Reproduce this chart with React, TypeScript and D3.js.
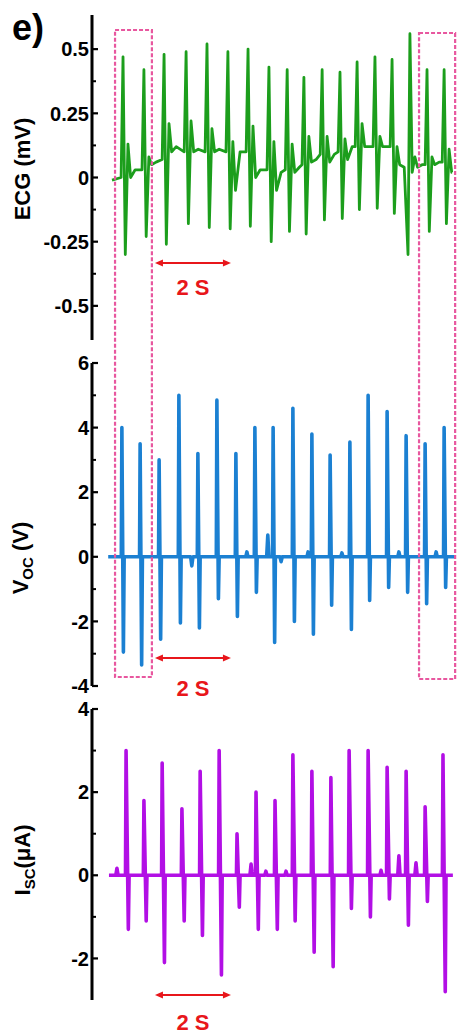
import React from "react";
import * as d3 from "d3";

// ---------- DATA ----------
// ECG beats: time of R peak (s), R amplitude, S trough, Q (value just before R),
// T-bump after S, dip after bump, baseline later in the interval (mV)
const ecgBeatTime = [0.29, 0.84, 1.37, 1.95, 2.5, 3.05, 3.58, 4.13, 4.61, 5.05, 5.53, 6.0, 6.45, 6.92, 7.37, 7.84, 8.29, 8.74];
const ecgR = [0.47, 0.42, 0.48, 0.49, 0.52, 0.49, 0.5, 0.43, 0.42, 0.39, 0.42, 0.41, 0.45, 0.47, 0.46, 0.56, 0.42, 0.42];
const ecgS = [-0.3, -0.23, -0.26, -0.18, -0.195, -0.2, -0.19, -0.25, -0.21, -0.22, -0.165, -0.16, -0.125, -0.12, -0.14, 0.02, -0.21, -0.18];
const ecgQ = [0.0, 0.03, 0.07, 0.1, 0.1, 0.1, 0.1, 0.03, 0.03, 0.05, 0.09, 0.1, 0.12, 0.12, 0.12, -0.3, 0.05, 0.06];
const ecgTwave = [0.13, 0.08, 0.21, 0.22, 0.19, 0.14, 0.2, 0.14, 0.13, 0.16, 0.16, 0.15, 0.21, 0.16, 0.12, 0.08, 0.08, 0.11];
const ecgDip = [0.0, 0.05, 0.1, 0.1, 0.1, -0.05, 0.0, -0.05, 0.02, 0.06, 0.06, 0.07, 0.12, 0.12, 0.05, 0.04, 0.05, 0.02];
const ecgBase = [0.03, 0.06, 0.12, 0.11, 0.11, 0.1, 0.03, 0.02, 0.04, 0.07, 0.09, 0.12, 0.12, 0.12, 0.04, 0.05, 0.06, 0.02];
const ecgStart = [0.0, -0.01];
const ecgEnd = [8.95, 0.02];

// Voc spikes (V)
const vocTime = [0.26, 0.74, 1.24, 1.76, 2.26, 2.76, 3.26, 3.76, 4.24, 4.76, 5.26, 5.74, 6.26, 6.74, 7.24, 7.74, 8.24, 8.74];
const vocPeak = [4.0, 3.5, 3.0, 5.0, 3.2, 4.85, 3.2, 4.0, 4.0, 4.6, 3.8, 3.15, 3.55, 5.0, 4.5, 3.75, 3.5, 4.0];
const vocTrough = [-2.95, -3.35, -2.55, -2.05, -2.2, -1.3, -1.85, -1.1, -2.65, -2.0, -2.4, -1.5, -2.25, -1.35, -0.95, -1.1, -1.45, -0.95];
const vocBlipTime = [2.1, 3.55, 4.1, 4.45, 5.16, 6.05, 7.55, 8.53];
const vocBlipValue = [-0.28, 0.15, 0.67, -0.15, 0.15, 0.12, 0.15, 0.15];
const vocSpan = [-0.1, 9.05];

// Isc spikes (µA)
const iscTime = [0.37, 0.84, 1.32, 1.84, 2.32, 2.82, 3.29, 3.79, 4.29, 4.76, 5.26, 5.76, 6.24, 6.74, 7.24, 7.74, 8.24, 8.71];
const iscPeak = [3.0, 1.8, 2.7, 1.6, 2.5, 3.0, 1.0, 2.0, 1.8, 2.9, 2.5, 2.35, 3.0, 3.0, 2.6, 2.5, 1.65, 2.9];
const iscTrough = [-1.3, -1.1, -2.1, -1.1, -1.45, -2.4, -0.77, -1.3, -1.3, -1.1, -1.85, -2.2, -0.8, -1.0, -0.57, -1.2, -0.63, -2.8];
const iscBlipTime = [0.13, 3.66, 4.05, 4.58, 7.08, 7.55, 8.0];
const iscBlipValue = [0.17, 0.27, 0.1, 0.1, 0.12, 0.47, 0.3];
const iscSpan = [-0.08, 8.97];

// Axis ticks
const ecgMajor = [-0.5, -0.25, 0, 0.25, 0.5];
const ecgMajorLabels = ["-0.5", "-0.25", "0", "0.25", "0.5"];
const ecgMinor = [-0.375, -0.125, 0.125, 0.375];
const vocMajor = [-4, -2, 0, 2, 4, 6];
const vocMinor = [-3, -1, 1, 3, 5];
const iscMajor = [-2, 0, 2, 4];
const iscMinor = [-1, 1, 3];

// Highlight windows (s) and 2 s scale bars
const highlightWindows = [[0.08, 1.05], [8.08, 9.03]];
const scaleBar = [1.13, 3.13];

// ---------- LAYOUT ----------
const W = 458;
const H = 1036;
const AXIS_X = 92;
const FONT = "'Liberation Sans', Arial, Helvetica, sans-serif";
const RED = "#e8161b";
const PINK = "#e8579f";

const x = d3.scaleLinear().domain([0, 9]).range([112, 454]);
const yEcg = d3.scaleLinear().domain([-0.633, 0.633]).range([340, 15]);
const yVoc = d3.scaleLinear().domain([-4, 6]).range([686, 363]);
const yIsc = d3.scaleLinear().domain([-3, 4]).range([1000, 709]);

function ecgPoints(): [number, number][] {
  const pts: [number, number][] = [ecgStart as [number, number]];
  ecgBeatTime.forEach((t, i) => {
    pts.push([t - 0.05, ecgQ[i]]);
    pts.push([t, ecgR[i]]);
    pts.push([t + 0.06, ecgS[i]]);
    pts.push([t + 0.13, ecgTwave[i]]);
    pts.push([t + 0.2, ecgDip[i]]);
    if (t + 0.32 < ecgEnd[0]) pts.push([t + 0.32, ecgBase[i]]);
  });
  pts.push(ecgEnd as [number, number]);
  return pts;
}

function spikePoints(
  times: number[], peaks: number[], troughs: number[],
  blipT: number[], blipV: number[], span: number[], dDown: number
): [number, number][] {
  const pts: [number, number][] = [];
  times.forEach((t, i) => {
    pts.push([t - 0.015, 0]);
    pts.push([t, peaks[i]]);
    pts.push([t + dDown, troughs[i]]);
    pts.push([t + dDown + 0.02, 0]);
  });
  blipT.forEach((t, i) => {
    pts.push([t - 0.03, 0]);
    pts.push([t, blipV[i]]);
    pts.push([t + 0.03, 0]);
  });
  pts.sort((a, b) => a[0] - b[0]);
  return [[span[0], 0], ...pts, [span[1], 0]];
}

function Axis({ y, major, labels, minor, top, bottom }: any) {
  return (
    <g>
      <line x1={AXIS_X} x2={AXIS_X} y1={top} y2={bottom} stroke="#000" strokeWidth={3} />
      {major.map((v: number, i: number) => (
        <g key={"M" + i}>
          <line x1={AXIS_X} x2={AXIS_X + 6} y1={y(v)} y2={y(v)} stroke="#000" strokeWidth={2.2} />
          <text x={89} y={y(v)} dy="0.36em" textAnchor="end" fontFamily={FONT} fontWeight="bold" fontSize={20} fill="#000">
            {labels ? labels[i] : String(v)}
          </text>
        </g>
      ))}
      {minor.map((v: number, i: number) => (
        <line key={"m" + i} x1={AXIS_X} x2={AXIS_X + 4} y1={y(v)} y2={y(v)} stroke="#000" strokeWidth={2} />
      ))}
    </g>
  );
}

function ScaleBar({ yPos, textY }: { yPos: number; textY: number }) {
  const x0 = x(scaleBar[0]);
  const x1 = x(scaleBar[1]);
  return (
    <g>
      <line x1={x0 + 5} x2={x1 - 5} y1={yPos} y2={yPos} stroke={RED} strokeWidth={2.2} />
      <path d={`M${x0},${yPos} L${x0 + 8},${yPos - 3.5} L${x0 + 8},${yPos + 3.5} Z`} fill={RED} />
      <path d={`M${x1},${yPos} L${x1 - 8},${yPos - 3.5} L${x1 - 8},${yPos + 3.5} Z`} fill={RED} />
      <text x={(x0 + x1) / 2} y={textY} textAnchor="middle" fontFamily={FONT} fontWeight="bold" fontSize={22} fill={RED}>
        2 S
      </text>
    </g>
  );
}

export default function App() {
  const ecgPath = d3.line<[number, number]>().x((d) => x(d[0])).y((d) => yEcg(d[1]))(ecgPoints()) || "";
  const vocPath = d3.line<[number, number]>().x((d) => x(d[0])).y((d) => yVoc(d[1]))(
    spikePoints(vocTime, vocPeak, vocTrough, vocBlipTime, vocBlipValue, vocSpan, 0.04)
  ) || "";
  const iscPath = d3.line<[number, number]>().x((d) => x(d[0])).y((d) => yIsc(d[1]))(
    spikePoints(iscTime, iscPeak, iscTrough, iscBlipTime, iscBlipValue, iscSpan, 0.06)
  ) || "";

  const rectTops = [30, 33];
  const rectBottoms = [677, 679];

  return (
    <svg width={W} height={H} style={{ position: "absolute", left: 0, top: 0, background: "#fff" }}>
      <rect x={0} y={0} width={W} height={H} fill="#fff" />
      <text x={12} y={40} fontFamily={FONT} fontWeight="bold" fontSize={36} fill="#000">e)</text>

      {/* ECG */}
      <Axis y={yEcg} major={ecgMajor} labels={ecgMajorLabels} minor={ecgMinor} top={15} bottom={340} />
      <text transform="translate(30,169) rotate(-90)" textAnchor="middle" fontFamily={FONT} fontWeight="bold" fontSize={22}>
        ECG (mV)
      </text>
      <path d={ecgPath} fill="none" stroke="#1c9e1c" strokeWidth={2.8} strokeLinejoin="round" />
      <ScaleBar yPos={263} textY={295} />

      {/* Voc */}
      <Axis y={yVoc} major={vocMajor} minor={vocMinor} top={363} bottom={686} />
      <text transform="translate(28,558) rotate(-90)" textAnchor="middle" fontFamily={FONT} fontWeight="bold" fontSize={22}>
        V<tspan fontSize={15} dy={5}>OC</tspan><tspan dy={-5}> (V)</tspan>
      </text>
      <path d={vocPath} fill="none" stroke="#1b80d2" strokeWidth={3.6} strokeLinejoin="round" />
      <ScaleBar yPos={658} textY={696} />

      {/* Isc */}
      <Axis y={yIsc} major={iscMajor} minor={iscMinor} top={709} bottom={1000} />
      <text transform="translate(30,860) rotate(-90)" textAnchor="middle" fontFamily={FONT} fontWeight="bold" fontSize={22}>
        I<tspan fontSize={15} dy={5}>SC</tspan><tspan dy={-5}>(μA)</tspan>
      </text>
      <path d={iscPath} fill="none" stroke="#b20fe5" strokeWidth={3.6} strokeLinejoin="round" />
      <ScaleBar yPos={995} textY={1030} />

      {/* highlight boxes */}
      {highlightWindows.map((w, i) => (
        <rect
          key={i}
          x={x(w[0])}
          y={rectTops[i]}
          width={x(w[1]) - x(w[0])}
          height={rectBottoms[i] - rectTops[i]}
          fill="none"
          stroke={PINK}
          strokeWidth={2.2}
          strokeDasharray="4 2"
        />
      ))}
    </svg>
  );
}
